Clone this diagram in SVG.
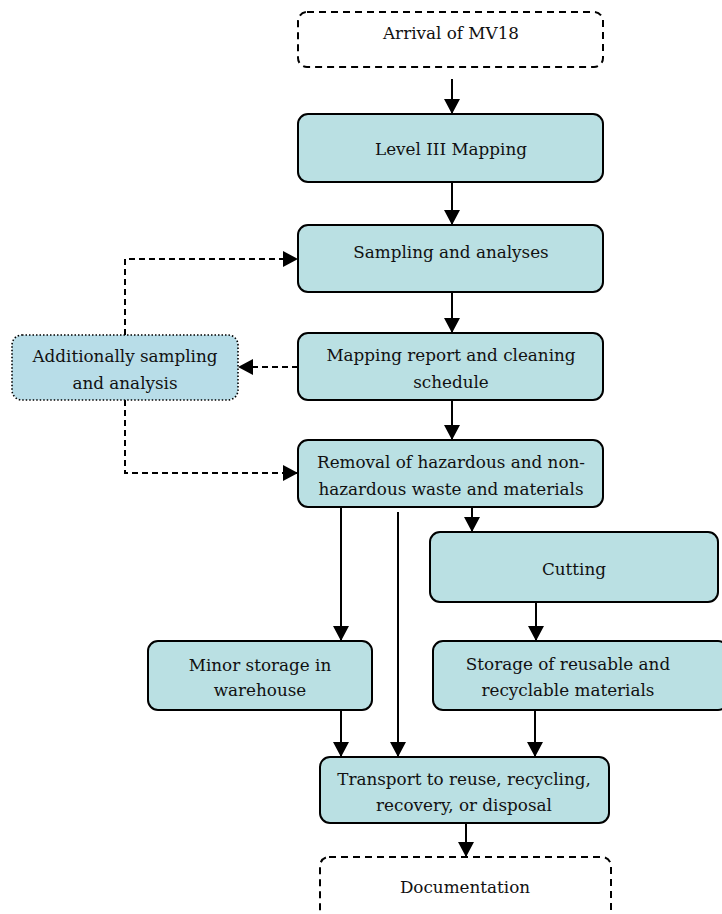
<svg xmlns="http://www.w3.org/2000/svg" width="722" height="914" viewBox="0 0 722 914">
<defs>
<style>
.box{fill:#bae0e3;stroke:#000;stroke-width:2}
.term{fill:#fff;stroke:#000;stroke-width:2;stroke-dasharray:7 5}
.extra{fill:#b8dde8;stroke:#000;stroke-width:1.6;stroke-dasharray:1.5 2}
.t{font-family:"DejaVu Serif","Liberation Serif",serif;font-size:16.8px;fill:#111;text-anchor:middle}
.c{fill:none;stroke:#000;stroke-width:2}
.d{fill:none;stroke:#000;stroke-width:2;stroke-dasharray:6 4}
</style>
<marker id="ah" markerWidth="15" markerHeight="16" refX="15" refY="8" orient="auto" markerUnits="userSpaceOnUse">
<path d="M0,0 L15,8 L0,16 Z" fill="#000"/>
</marker>
</defs>
<rect width="722" height="914" fill="#fff"/>
<g id="arrival"><rect class="term" x="298" y="12" width="305" height="55" rx="9"/><text class="t" x="451" y="39">Arrival of MV18</text></g>
<g id="level3"><rect class="box" x="298" y="114" width="305" height="68" rx="10"/><text class="t" x="451" y="155">Level III Mapping</text></g>
<g id="sampling"><rect class="box" x="298" y="225" width="305" height="67" rx="10"/><text class="t" x="451" y="258">Sampling and analyses</text></g>
<g id="report"><rect class="box" x="298" y="333" width="305" height="67" rx="10"/><text class="t" x="451" y="361">Mapping report and cleaning</text><text class="t" x="451" y="388">schedule</text></g>
<g id="additional"><rect class="extra" x="12" y="335" width="226" height="65" rx="10"/><text class="t" x="125" y="362">Additionally sampling</text><text class="t" x="125" y="389">and analysis</text></g>
<g id="removal"><rect class="box" x="298" y="440" width="305" height="67" rx="10"/><text class="t" x="451" y="468">Removal of hazardous and non-</text><text class="t" x="451" y="495">hazardous waste and materials</text></g>
<g id="cutting"><rect class="box" x="430" y="532" width="288" height="70" rx="10"/><text class="t" x="574" y="575">Cutting</text></g>
<g id="minor"><rect class="box" x="148" y="641" width="224" height="69" rx="10"/><text class="t" x="260" y="671">Minor storage in</text><text class="t" x="260" y="696">warehouse</text></g>
<g id="storage"><rect class="box" x="433" y="641" width="295" height="69" rx="10"/><text class="t" x="568" y="670">Storage of reusable and</text><text class="t" x="568" y="696">recyclable materials</text></g>
<g id="transport"><rect class="box" x="320" y="757" width="289" height="66" rx="10"/><text class="t" x="464" y="785">Transport to reuse, recycling,</text><text class="t" x="464" y="811">recovery, or disposal</text></g>
<g id="documentation"><rect class="term" x="320" y="857" width="291" height="70" rx="9"/><text class="t" x="465" y="893">Documentation</text></g>
<g id="connectors">
<path class="c" d="M452,79 V114" marker-end="url(#ah)"/>
<path class="c" d="M452,182 V225" marker-end="url(#ah)"/>
<path class="c" d="M452,292 V333" marker-end="url(#ah)"/>
<path class="c" d="M452,400 V440" marker-end="url(#ah)"/>
<path class="d" d="M125,335 V259 H298" marker-end="url(#ah)"/>
<path class="d" d="M298,367 H238" marker-end="url(#ah)"/>
<path class="d" d="M125,400 V473 H298" marker-end="url(#ah)"/>
<path class="c" d="M341,507 V641" marker-end="url(#ah)"/>
<path class="c" d="M398,512 V757" marker-end="url(#ah)"/>
<path class="c" d="M472,507 V532" marker-end="url(#ah)"/>
<path class="c" d="M536,602 V641" marker-end="url(#ah)"/>
<path class="c" d="M341,710 V757" marker-end="url(#ah)"/>
<path class="c" d="M535,710 V757" marker-end="url(#ah)"/>
<path class="c" d="M466,823 V857" marker-end="url(#ah)"/>
</g>
</svg>
